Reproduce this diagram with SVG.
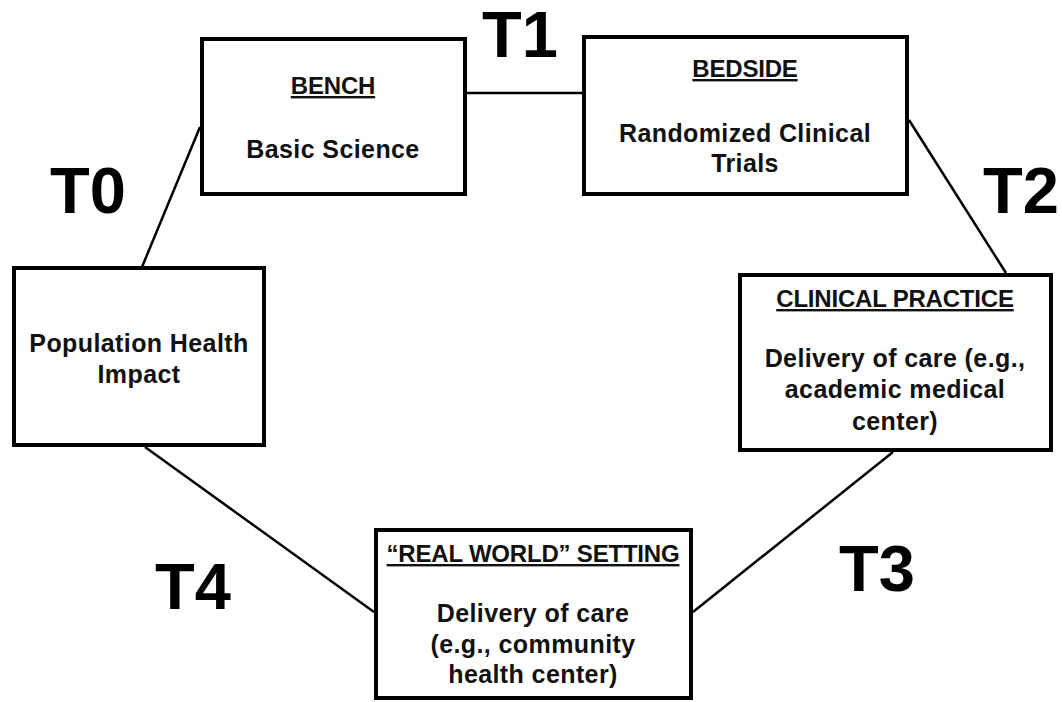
<svg xmlns="http://www.w3.org/2000/svg" width="1062" height="702" viewBox="0 0 1062 702">
<style>
.box{fill:#fff;stroke:#000;stroke-width:4}
.t{font-family:"Liberation Sans",Arial,sans-serif;font-weight:bold;font-size:25px;letter-spacing:0.4px;fill:#111;text-anchor:middle}
.h{font-family:"Liberation Sans",Arial,sans-serif;font-weight:bold;font-size:24px;letter-spacing:-0.2px;fill:#111;text-anchor:middle;text-decoration:underline}
.big{font-family:"Liberation Sans",Arial,sans-serif;font-weight:bold;font-size:65px;fill:#000;text-anchor:middle}
.c{stroke:#000;stroke-width:2.5;fill:none}
</style>
<rect width="1062" height="702" fill="#fff"/>
<g id="connectors">
<line class="c" x1="200" y1="127" x2="142" y2="267"/>
<line class="c" x1="467" y1="93" x2="582" y2="93"/>
<line class="c" x1="909" y1="120" x2="1006" y2="273"/>
<line class="c" x1="893" y1="452" x2="693" y2="612"/>
<line class="c" x1="145" y1="447" x2="374" y2="612"/>
</g>
<g id="labels">
<text class="big" x="520" y="57">T1</text>
<text class="big" x="88" y="213">T0</text>
<text class="big" x="1021" y="213">T2</text>
<text class="big" x="877" y="591">T3</text>
<text class="big" x="193" y="609">T4</text>
</g>
<g id="bench">
<rect class="box" x="202" y="39" width="263" height="155"/>
<text class="h" x="333" y="94">BENCH</text>
<text class="t" x="333" y="158">Basic Science</text>
</g>
<g id="bedside">
<rect class="box" x="584" y="37" width="323" height="157"/>
<text class="h" x="745" y="77">BEDSIDE</text>
<text class="t" x="745" y="142">Randomized Clinical</text>
<text class="t" x="745" y="172">Trials</text>
</g>
<g id="population">
<rect class="box" x="14" y="268" width="250" height="177"/>
<text class="t" x="139" y="352">Population Health</text>
<text class="t" x="139" y="383">Impact</text>
</g>
<g id="clinical">
<rect class="box" x="740" y="275" width="311" height="175"/>
<text class="h" x="895" y="307">CLINICAL PRACTICE</text>
<text class="t" x="895" y="367">Delivery of care (e.g.,</text>
<text class="t" x="895" y="398">academic medical</text>
<text class="t" x="895" y="430">center)</text>
</g>
<g id="realworld">
<rect class="box" x="376" y="530" width="315" height="168"/>
<text class="h" x="533" y="562">“REAL WORLD” SETTING</text>
<text class="t" x="533" y="622">Delivery of care</text>
<text class="t" x="533" y="653">(e.g., community</text>
<text class="t" x="533" y="683">health center)</text>
</g>
</svg>
